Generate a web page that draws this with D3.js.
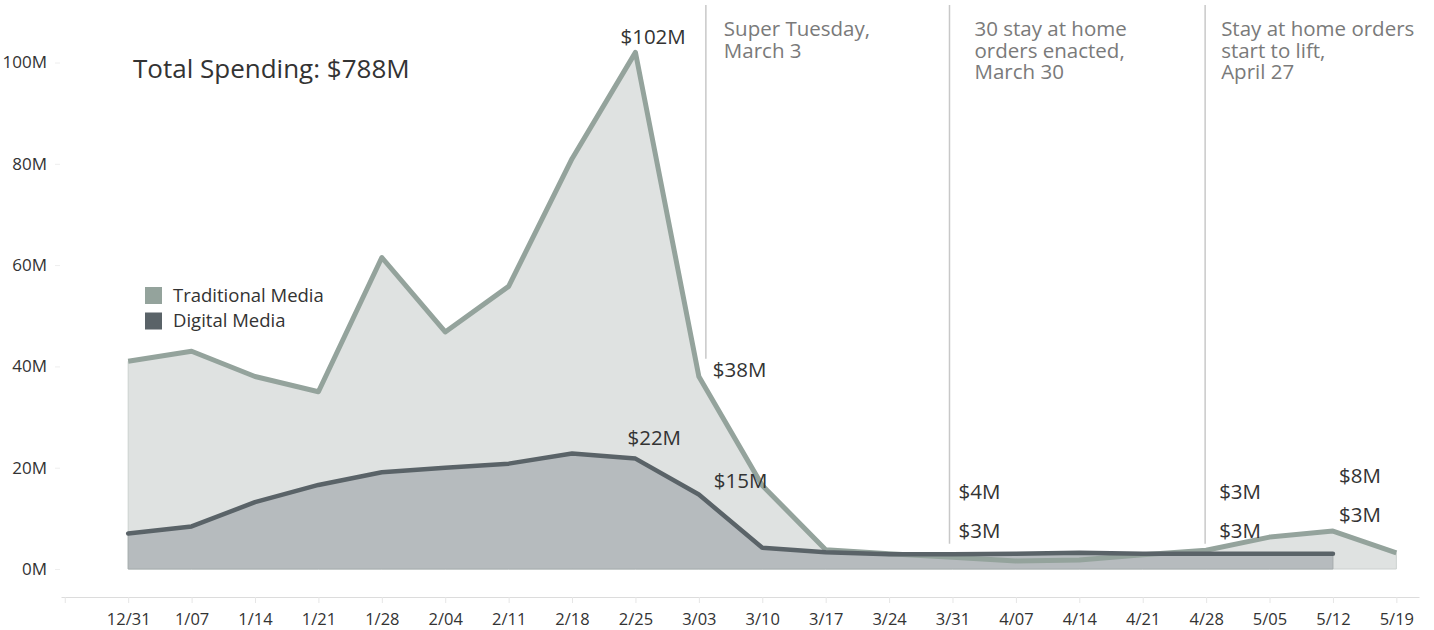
<!DOCTYPE html>
<html>
<head>
<meta charset="utf-8">
<script src="https://cdn.jsdelivr.net/npm/d3@7"></script>
<style>
  body { margin: 0; background: #fff; font-family: "Open Sans", sans-serif; }
  svg text { font-family: "Open Sans", sans-serif; }
</style>
</head>
<body>
<svg id="chart" width="1434" height="630"></svg>
<script>
// weekly spending, millions of dollars
var weeks = ["2019-12-31", "2020-01-07", "2020-01-14", "2020-01-21", "2020-01-28",
  "2020-02-04", "2020-02-11", "2020-02-18", "2020-02-25", "2020-03-03", "2020-03-10",
  "2020-03-17", "2020-03-24", "2020-03-31", "2020-04-07", "2020-04-14", "2020-04-21",
  "2020-04-28", "2020-05-05", "2020-05-12", "2020-05-19"];

var traditional = [41, 43, 38, 35, 61.5, 46.8, 55.8, 81, 102, 38, 16.5,
  3.8, 3.0, 2.3, 1.6, 1.8, 2.8, 3.7, 6.3, 7.5, 3.2];

var digital = [7.0, 8.4, 13.2, 16.6, 19.1, 20, 20.8, 22.8, 21.8, 14.7, 4.2,
  3.3, 2.9, 2.9, 3.0, 3.2, 3.0, 3.0, 3.0, 3.0];

var yTicks = [0, 20, 40, 60, 80, 100];

var seriesNames = ["Traditional Media", "Digital Media"];

var events = [
  { week: "2020-03-03", lines: ["Super Tuesday,", "March 3"] },
  { week: "2020-03-31", lines: ["30 stay at home", "orders enacted,", "March 30"] },
  { week: "2020-04-28", lines: ["Stay at home orders", "start to lift,", "April 27"] }
];

var callouts = [
  { week: "2020-02-25", text: "$102M" },
  { week: "2020-03-03", text: "$38M" },
  { week: "2020-02-25", text: "$22M" },
  { week: "2020-03-03", text: "$15M" },
  { week: "2020-03-31", text: "$4M" },
  { week: "2020-03-31", text: "$3M" },
  { week: "2020-04-28", text: "$3M" },
  { week: "2020-04-28", text: "$3M" },
  { week: "2020-05-12", text: "$8M" },
  { week: "2020-05-12", text: "$3M" }
];

var total = "$788M";

// layout
var colors = {
  tradLine: "#94a39c", tradFill: "#dfe2e1",
  digLine: "#5a6368", digFill: "#b6bbbe",
  text: "#333", note: "#7a7a7a", rule: "#c8c8c8", axis: "#dcdcdc"
};
// where event rules and callouts sit: px offset from tick, height in M
var eventSpots = [
  { dx: 7, bottom: 41.5, tx: 25 },
  { dx: -3, bottom: 5, tx: 22 },
  { dx: -1, bottom: 5, tx: 15 }
];
var calloutSpots = [
  { dx: -15, at: 103.6 }, { dx: 14, at: 37.9 },
  { dx: -8, at: 24.5 }, { dx: 15, at: 16.0 },
  { dx: 6, at: 13.8 }, { dx: 6, at: 6.1 },
  { dx: 13, at: 13.8 }, { dx: 13, at: 6.1 },
  { dx: 6, at: 17.0 }, { dx: 6, at: 9.3 }
];

var parse = d3.utcParse("%Y-%m-%d");
var dates = weeks.map(parse);

var svg = d3.select("#chart");

var x = d3.scaleUtc()
  .domain([new Date(Date.UTC(2019, 11, 23, 14)), new Date(Date.UTC(2020, 4, 21, 12))])
  .range([61, 1419]);

var y = d3.scaleLinear()
  .domain([0, 100])
  .range([569, 62.5]);

var tradData = traditional.map(function (v, i) { return { date: dates[i], value: v }; });
var digData = digital.map(function (v, i) { return { date: dates[i], value: v }; });

var area = d3.area()
  .x(function (d) { return x(d.date); })
  .y0(y(0))
  .y1(function (d) { return y(d.value); });

var line = d3.line()
  .x(function (d) { return x(d.date); })
  .y(function (d) { return y(d.value); });

// y axis
var yAxis = svg.append("g")
  .attr("transform", "translate(60,0)")
  .call(d3.axisLeft(y).tickValues(yTicks).tickSize(5).tickPadding(8)
    .tickFormat(function (d) { return d + "M"; }));
yAxis.select(".domain").remove();
yAxis.selectAll(".tick line").attr("stroke", "#eee");
yAxis.selectAll(".tick text")
  .attr("fill", colors.text)
  .style("font-size", "17px");

// x axis
var tickDates = [new Date(Date.UTC(2019, 11, 24))].concat(dates);
var xAxis = svg.append("g")
  .attr("transform", "translate(0,597)")
  .call(d3.axisBottom(x).tickValues(tickDates).tickSize(6).tickSizeOuter(0).tickPadding(10)
    .tickFormat(function (d, i) { return i === 0 ? "" : d3.utcFormat("%-m/%d")(d); }));
xAxis.select(".domain").attr("stroke", colors.axis);
xAxis.selectAll(".tick line").attr("stroke", "#e6e6e6");
xAxis.selectAll(".tick text")
  .attr("fill", colors.text)
  .style("font-size", "16.5px");

// areas and lines
svg.append("path").datum(tradData)
  .attr("d", area)
  .attr("fill", colors.tradFill)
  .attr("stroke", "#ccd1cf")
  .attr("stroke-width", 1);

svg.append("path").datum(digData)
  .attr("d", area)
  .attr("fill", colors.digFill)
  .attr("stroke", "#a6acae")
  .attr("stroke-width", 1);

svg.append("path").datum(tradData)
  .attr("d", line)
  .attr("fill", "none")
  .attr("stroke", colors.tradLine)
  .attr("stroke-width", 5)
  .attr("stroke-linejoin", "round");

svg.append("path").datum(digData)
  .attr("d", line)
  .attr("fill", "none")
  .attr("stroke", colors.digLine)
  .attr("stroke-width", 4.5)
  .attr("stroke-linejoin", "round")
  .attr("stroke-linecap", "round");

// event rules
events.forEach(function (e, i) {
  var s = eventSpots[i];
  var ex = x(parse(e.week)) + s.dx;
  svg.append("line")
    .attr("x1", ex).attr("x2", ex)
    .attr("y1", 5).attr("y2", y(s.bottom))
    .attr("stroke", colors.rule)
    .attr("stroke-width", 1.5);
  var t = svg.append("text")
    .attr("x", x(parse(e.week)) + s.tx)
    .attr("y", 36)
    .attr("fill", colors.note)
    .style("font-size", "20.5px");
  e.lines.forEach(function (l, j) {
    t.append("tspan")
      .attr("x", x(parse(e.week)) + s.tx)
      .attr("dy", j === 0 ? 0 : 21.5)
      .text(l);
  });
});

// callouts
callouts.forEach(function (c, i) {
  var s = calloutSpots[i];
  svg.append("text")
    .attr("x", x(parse(c.week)) + s.dx)
    .attr("y", y(s.at))
    .attr("fill", colors.text)
    .style("font-size", "20.5px")
    .text(c.text);
});

// title
svg.append("text")
  .attr("x", 133)
  .attr("y", 78)
  .attr("fill", colors.text)
  .style("font-size", "26px")
  .text("Total Spending: " + total);

// legend
var legend = svg.append("g").attr("transform", "translate(145,287)");
var legendColors = [colors.tradLine, colors.digLine];
seriesNames.forEach(function (name, i) {
  var g = legend.append("g").attr("transform", "translate(0," + (i * 25.5) + ")");
  g.append("rect")
    .attr("width", 17).attr("height", 17)
    .attr("fill", legendColors[i]);
  g.append("text")
    .attr("x", 28).attr("y", 14.5)
    .attr("fill", colors.text)
    .style("font-size", "18.5px")
    .text(name);
});
</script>
</body>
</html>
